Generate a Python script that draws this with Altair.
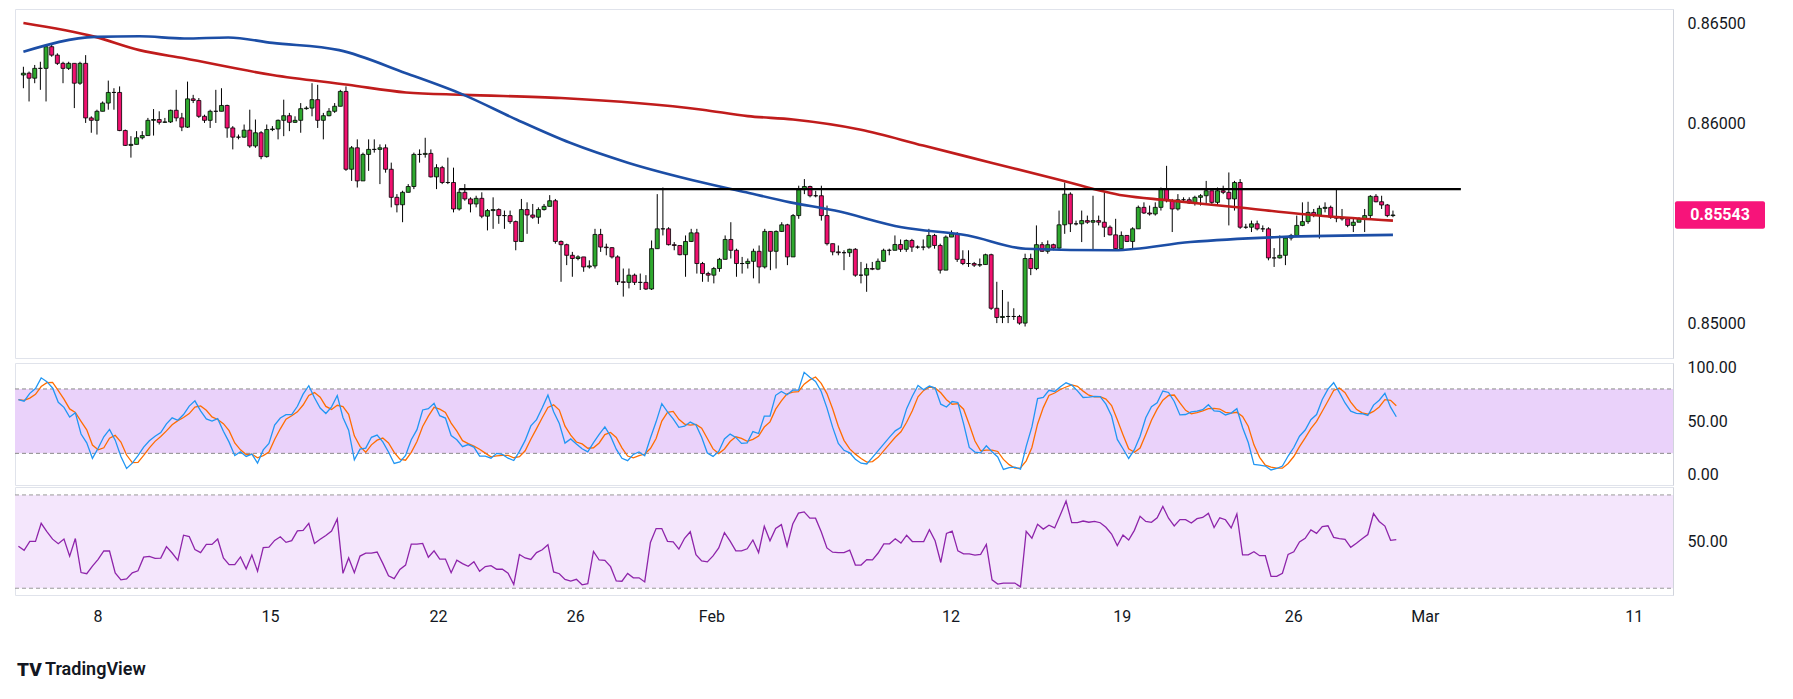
import altair as alt
import pandas as pd
import numpy as np

# prices x 1e5 (4h candles)
first_open_e5 = 86241
close_e5 = [86250,86225,86274,86274,86382,86340,86299,86274,86299,86200,86299,86027,86015,86060,86101,86154,86154,85964,85890,85895,
85928,85939,86015,86019,86005,86007,86065,86027,85981,86122,86114,86035,86015,86060,86060,86089,85977,85931,85931,85966,
85887,85953,85834,85969,85972,86015,86038,86005,86015,86073,86076,86118,86015,86038,86060,86085,86159,85771,85878,85713,
85845,85870,85870,85878,85771,85631,85594,85656,85685,85845,85845,85850,85733,85779,85705,85705,85573,85656,85623,85598,
85626,85537,85565,85570,85540,85540,85510,85411,85570,85543,85532,85570,85586,85614,85411,85395,85342,85326,85334,85284,
85289,85446,85383,85380,85334,85210,85207,85243,85207,85207,85174,85375,85474,85474,85395,85391,85345,85411,85454,85301,
85251,85243,85276,85322,85421,85367,85301,85301,85312,85362,85284,85461,85362,85461,85494,85334,85540,85669,85685,85639,
85639,85540,85400,85359,85355,85355,85372,85243,85243,85276,85273,85312,85367,85367,85396,85372,85416,85383,85383,85383,
85441,85391,85268,85433,85449,85322,85301,85301,85293,85296,85345,85078,85032,85037,85037,85037,85004,85326,85276,85395,
85362,85395,85378,85494,85647,85499,85499,85515,85507,85515,85507,85482,85444,85375,85441,85411,85474,85581,85553,85548,
85581,85672,85614,85573,85619,85619,85603,85631,85639,85664,85606,85664,85656,85623,85705,85482,85482,85499,85474,85474,
85329,85329,85342,85428,85441,85491,85510,85556,85540,85576,85581,85532,85527,85524,85491,85507,85524,85540,85636,85609,
85593,85540,85543]
high_e5 = [86282,86258,86291,86307,86390,86398,86349,86307,86307,86299,86307,86340,86035,86068,86109,86213,86175,86184,85969,85936,
85961,85961,86027,86071,86060,86027,86068,86167,86052,86208,86142,86126,86043,86068,86167,86175,86093,85986,85944,85994,
86068,86019,85961,85994,85986,86019,86118,86052,86035,86101,86085,86200,86192,86052,86076,86101,86167,86184,85887,85920,
85854,85920,85920,85895,85895,85804,85647,85664,85697,85854,85870,85928,85870,85796,85788,85829,85779,85672,85697,85631,
85639,85656,85573,85631,85576,85565,85565,85515,85623,85606,85598,85581,85598,85642,85623,85416,85400,85359,85342,85334,
85317,85474,85474,85400,85383,85342,85276,85276,85251,85251,85243,85416,85647,85680,85482,85408,85391,85441,85474,85474,
85309,85260,85284,85329,85441,85507,85375,85334,85326,85375,85391,85474,85458,85466,85507,85499,85548,85689,85722,85689,
85664,85689,85590,85400,85391,85367,85375,85378,85309,85301,85309,85326,85375,85375,85441,85421,85421,85424,85391,85421,
85474,85449,85400,85441,85466,85458,85367,85367,85309,85326,85350,85350,85210,85169,85111,85078,85045,85350,85350,85491,
85408,85416,85400,85565,85705,85656,85515,85565,85540,85639,85540,85656,85491,85524,85461,85441,85482,85590,85606,85590,
85606,85680,85788,85623,85647,85631,85631,85639,85647,85713,85664,85680,85689,85755,85713,85722,85499,85515,85515,85491,
85482,85378,85441,85433,85449,85540,85606,85609,85573,85590,85606,85590,85672,85573,85532,85532,85532,85573,85642,85647,
85639,85598,85565]
low_e5 = [86175,86109,86200,86167,86109,86332,86291,86200,86266,86076,86192,86002,85953,85944,86060,86068,86068,85961,85887,85829,
85903,85920,85939,85939,85994,86002,86002,86010,85961,85977,86101,86027,86002,85977,86002,86060,85928,85870,85920,85928,
85878,85878,85821,85829,85961,85920,85936,85961,86002,85953,86068,86035,85977,85920,86035,86052,86085,85763,85713,85680,
85713,85763,85854,85697,85754,85581,85556,85507,85656,85672,85804,85829,85730,85672,85697,85697,85556,85565,85614,85556,
85581,85527,85466,85474,85499,85474,85499,85367,85408,85449,85524,85499,85565,85609,85400,85210,85293,85235,85317,85260,
85276,85276,85359,85342,85326,85194,85136,85177,85194,85169,85169,85169,85375,85441,85391,85367,85342,85235,85408,85251,
85210,85210,85202,85260,85342,85326,85235,85251,85276,85227,85202,85276,85268,85276,85458,85293,85334,85524,85647,85631,
85631,85515,85391,85342,85342,85268,85334,85235,85202,85160,85268,85268,85309,85342,85367,85359,85359,85359,85375,85367,
85375,85375,85251,85367,85433,85309,85293,85284,85284,85284,85301,85070,85004,85004,85004,85020,84996,84987,85243,85268,
85359,85350,85367,85367,85449,85458,85491,85408,85499,85367,85491,85433,85441,85367,85433,85408,85375,85474,85548,85540,
85540,85565,85606,85458,85565,85606,85598,85590,85590,85598,85598,85590,85647,85491,85565,85474,85474,85458,85466,85458,
85317,85284,85326,85293,85416,85441,85487,85499,85532,85425,85556,85524,85507,85515,85482,85458,85507,85458,85524,85606,
85573,85532,85532]

# moving averages: (candle index, price)
red_ma_idx = [0,12.7,20.5,28.4,44,57.4,67.6,77.8,95,120,128,136,148,159,171,183,194.4,202,214,229.7,242]
red_ma_val = [0.86500,0.86431,0.86365,0.86324,0.86241,0.86192,0.86154,0.86142,0.86126,0.86068,0.86036,0.86019,0.85968,0.85889,
              0.85804,0.85719,0.85640,0.85617,0.85583,0.85538,0.85515]
blue_ma_idx = [0,12.7,20.5,28.4,36.2,44,55.8,67.6,77.8,87.2,96.6,106.8,120,127.7,135.5,143.4,155.2,166.9,177.1,192.8,206.2,221.9,242]
blue_ma_val = [0.86357,0.86431,0.86434,0.86423,0.86428,0.86401,0.86365,0.86250,0.86142,0.86018,0.85903,0.85804,0.85705,0.85656,
               0.85606,0.85565,0.85482,0.85441,0.85375,0.85367,0.85408,0.85433,0.85444]
resist_idx = [77, 254]
resist_val = 0.85672
last_price = 0.85543

tick_idx = [13.9, 44.2, 73.7, 97.8, 121.7, 163.7, 193.8, 223.9, 247, 283.7]
tick_lab = ["8", "15", "22", "26", "Feb", "12", "19", "26", "Mar", "11"]

# ---------- build tables ----------
c = np.array(close_e5) / 1e5
h = np.array(high_e5) / 1e5
l = np.array(low_e5) / 1e5
o = np.concatenate([[first_open_e5 / 1e5], c[:-1]])
n = len(c)
df = pd.DataFrame({"i": np.arange(n), "o": o, "c": c, "h": np.maximum(h, np.maximum(o, c)),
                   "l": np.minimum(l, np.minimum(o, c))})
df["top"] = df[["o", "c"]].max(axis=1)
df["bot"] = df[["o", "c"]].min(axis=1)
df["dir"] = np.where(df["c"] >= df["o"], "up", "down")

cs = pd.Series(c)
hh = pd.Series(df["h"]).rolling(14, min_periods=1).max()
ll = pd.Series(df["l"]).rolling(14, min_periods=1).min()
raw = 100 * (cs - ll) / (hh - ll).replace(0, np.nan)
k = raw.rolling(3, min_periods=1).mean()
d = k.rolling(3, min_periods=1).mean()

# RSI (Wilder), seeded with the series' average gain/loss to avoid a warm-up spike
delta = np.diff(c, prepend=first_open_e5 / 1e5)
gains = np.clip(delta, 0, None)
losses = np.clip(-delta, 0, None)
ag, al = gains.mean(), losses.mean()
rsi = []
for g, lo_ in zip(gains, losses):
    ag = (ag * 13 + g) / 14
    al = (al * 13 + lo_) / 14
    rsi.append(100 - 100 / (1 + ag / al) if al > 0 else 100)
ind = pd.DataFrame({"i": np.arange(n), "k": k, "d": d, "rsi": rsi})

red = pd.DataFrame({"i": red_ma_idx, "v": red_ma_val})
blue = pd.DataFrame({"i": blue_ma_idx, "v": blue_ma_val})
res = pd.DataFrame({"i": resist_idx, "v": [resist_val, resist_val]})

W = 1658
H1, H2, H3 = 349, 122, 108
XD = [-0.6, 290.6]
FONT = "Roboto"
TXT = "#131722"
xs = alt.Scale(domain=XD, nice=False, zero=False)

py = alt.Scale(domain=[0.8483, 0.8657], nice=False, zero=False)
yaxis = alt.Axis(orient="right", values=[0.850, 0.860, 0.865], format=".5f", ticks=False, grid=False,
                 domain=True, domainColor="#d1d4dc", labelPadding=14, labelFontSize=16, labelColor=TXT)

base = alt.Chart(df)
wick = base.mark_rule(color="#000000", strokeWidth=1).encode(
    x=alt.X("i:Q", scale=xs, axis=None),
    y=alt.Y("l:Q", scale=py, axis=yaxis, title=None), y2="h:Q")
body = base.mark_bar(size=4, stroke="#000000", strokeWidth=0.8).encode(
    x=alt.X("i:Q", scale=xs, axis=None),
    y=alt.Y("bot:Q", scale=py), y2="top:Q",
    color=alt.Color("dir:N", scale=alt.Scale(domain=["up", "down"], range=["#2ea82e", "#f0116f"]), legend=None))
redl = alt.Chart(red).mark_line(color="#c01c1c", strokeWidth=2.6, interpolate="monotone").encode(
    x=alt.X("i:Q", scale=xs), y=alt.Y("v:Q", scale=py))
bluel = alt.Chart(blue).mark_line(color="#1c4ea6", strokeWidth=2.6, interpolate="monotone").encode(
    x=alt.X("i:Q", scale=xs), y=alt.Y("v:Q", scale=py))
resl = alt.Chart(res).mark_line(color="#000000", strokeWidth=2.4, clip=True).encode(
    x=alt.X("i:Q", scale=xs), y=alt.Y("v:Q", scale=py))
lp = pd.DataFrame({"v": [last_price], "lo": [last_price - 0.00068], "hi": [last_price + 0.00068],
                   "t": [f"{last_price:.5f}"]})
lbox = alt.Chart(lp).mark_rect(color="#f7147a", cornerRadius=2).encode(
    x=alt.value(W + 2), x2=alt.value(W + 92), y=alt.Y("lo:Q", scale=py), y2="hi:Q")
ltxt = alt.Chart(lp).mark_text(color="white", fontSize=16, fontWeight="bold", font=FONT, align="center").encode(
    x=alt.value(W + 47), y=alt.Y("v:Q", scale=py), text="t:N")
price = alt.layer(wick, body, redl, bluel, resl, lbox, ltxt).properties(width=W, height=H1)

# stochastic
sy = alt.Scale(domain=[-9.5, 104.2], nice=False, zero=False)
band1 = alt.Chart(pd.DataFrame({"a": [20], "b": [80]})).mark_rect(color="#ead2fa").encode(
    x=alt.value(0), x2=alt.value(W), y=alt.Y("a:Q", scale=sy,
    axis=alt.Axis(orient="right", values=[0, 50, 100], format=".2f", ticks=False, grid=False, domainColor="#d1d4dc",
                  labelPadding=14, labelFontSize=16, labelColor=TXT), title=None), y2="b:Q")
lines1 = alt.Chart(pd.DataFrame({"v": [20, 80]})).mark_rule(color="#8a8a8a", strokeDash=[4, 3], strokeWidth=1).encode(
    x=alt.value(0), x2=alt.value(W), y=alt.Y("v:Q", scale=sy))
kl = alt.Chart(ind).mark_line(color="#2196f3", strokeWidth=1.3).encode(x=alt.X("i:Q", scale=xs, axis=None), y=alt.Y("k:Q", scale=sy))
dl = alt.Chart(ind).mark_line(color="#ff6d00", strokeWidth=1.3).encode(x=alt.X("i:Q", scale=xs, axis=None), y=alt.Y("d:Q", scale=sy))
stoch = alt.layer(band1, lines1, dl, kl).properties(width=W, height=H2)

# RSI
ry = alt.Scale(domain=[27.1, 73.4], nice=False, zero=False)
expr = " : ".join([f"datum.value == {v} ? '{t}'" for v, t in zip(tick_idx, tick_lab)]) + " : ''"
band2 = alt.Chart(pd.DataFrame({"a": [30], "b": [70]})).mark_rect(color="#f4e6fc").encode(
    x=alt.value(0), x2=alt.value(W), y=alt.Y("a:Q", scale=ry,
    axis=alt.Axis(orient="right", values=[50], format=".2f", ticks=False, grid=False, domainColor="#d1d4dc",
                  labelPadding=14, labelFontSize=16, labelColor=TXT), title=None), y2="b:Q")
lines2 = alt.Chart(pd.DataFrame({"v": [30, 70]})).mark_rule(color="#9a9a9a", strokeDash=[4, 3], strokeWidth=1).encode(
    x=alt.value(0), x2=alt.value(W), y=alt.Y("v:Q", scale=ry))
rl = alt.Chart(ind).mark_line(color="#8e24aa", strokeWidth=1.3, clip=True).encode(
    x=alt.X("i:Q", scale=xs, title=None,
            axis=alt.Axis(values=tick_idx, labelExpr=expr, ticks=False, grid=False, domain=False,
                          labelPadding=13, labelFontSize=16, labelColor=TXT, labelFlush=False)),
    y=alt.Y("rsi:Q", scale=ry))
logo1 = alt.Chart(pd.DataFrame({"t": ["TV"]})).mark_text(fontSize=19, fontWeight=900, font=FONT, align="left",
                                                          color=TXT).encode(
    x=alt.value(2), y=alt.value(H3 + 75), text="t:N")
logo2 = alt.Chart(pd.DataFrame({"t": ["TradingView"]})).mark_text(fontSize=18, fontWeight=600, font=FONT, align="left",
                                                                   color=TXT).encode(
    x=alt.value(30), y=alt.value(H3 + 75), text="t:N")
rsip = alt.layer(band2, lines2, rl, logo1, logo2).properties(width=W, height=H3)

chart = alt.vconcat(price, stoch, rsip, spacing=0).properties(
    padding={"left": 6, "top": 0, "right": 5, "bottom": 5}, background="white"
).configure_view(stroke="#e0e3eb", strokeWidth=1).configure_axis(labelFont=FONT).configure_concat(spacing=0)

chart.save("out.html", embed_options={"renderer": "svg", "actions": False})
